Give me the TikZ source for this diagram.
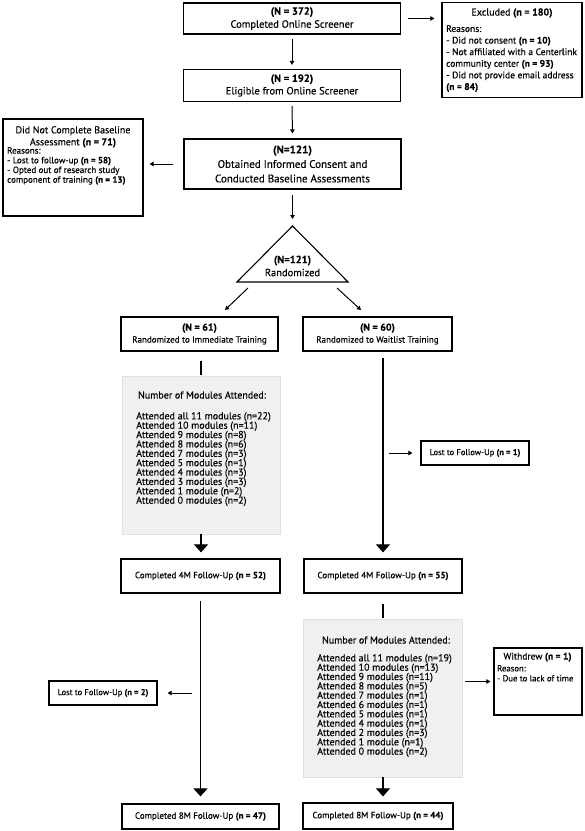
\documentclass[tikz,border=0pt]{standalone}
\usepackage{fontspec}
\setmainfont{PT Sans}[UprightFeatures={FakeBold=0.35}, BoldFont={PT Sans Bold}, BoldFeatures={FakeBold=0.1}]
\usetikzlibrary{arrows.meta}
\newcommand\mytight{\lineskiplimit-20pt\relax}
\begin{document}
\begin{tikzpicture}[x=1pt,y=-1pt,
  box/.style={draw, line width=1.2pt, inner sep=0pt, align=center},
  gbox/.style={draw=black!12, fill=black!6, line width=0.6pt, inner sep=0pt},
  sarr/.style={line width=1pt, -{Triangle[width=4.5pt,length=4pt]}},
  barr/.style={line width=1.1pt, -{Triangle[width=14pt,length=8pt]}},
  plainln/.style={line width=1.1pt},
  txt/.style={inner sep=0pt, align=left},
  ctxt/.style={inner sep=0pt, align=center},
]
\useasboundingbox (0,0) rectangle (585,831);
\fill[white] (0,0) rectangle (585,831);

% top column
\node[box, minimum width=217pt, minimum height=31pt, font=\fontsize{10.5}{13}\selectfont] (b1) at (292,18.5) {\textbf{(N = 372)}\\Completed Online Screener};
\node[box, minimum width=217pt, minimum height=32pt, font=\fontsize{10.5}{12.5}\selectfont] (b2) at (292,85.5) {\textbf{(N = 192)}\\Eligible from Online Screener};
\node[box, minimum width=217pt, minimum height=50pt, font=\fontsize{11}{14.5}\selectfont] (b3) at (292.5,164) {\textbf{(N=121)}\\Obtained Informed Consent and\\Conducted Baseline Assessments};

% excluded
\node[box, minimum width=140pt, minimum height=95pt] (ex) at (512,50) {};
\node[ctxt, anchor=base, font=\fontsize{10}{12}\selectfont] (exT) at (512,15.5) {Excluded \textbf{(n = 180)}};
\node[txt, anchor=north west, font=\fontsize{9.5}{11.6}\selectfont] (exR) at (446,25) {Reasons:\\- Did not consent \textbf{(n = 10)}\\- Not affiliated with a Centerlink\\community center \textbf{(n = 93)}\\- Did not provide email address\\\textbf{(n = 84)}};

% did not complete baseline
\node[box, minimum width=140pt, minimum height=97pt] (lb) at (73,167.5) {};
\node[ctxt, anchor=north, font=\fontsize{10}{12}\selectfont] (lbT) at (73,126) {Did Not Complete Baseline\\Assessment \textbf{(n = 71)}};
\node[txt, anchor=north west, font=\fontsize{9}{9.7}\selectfont] (lbR) at (7,147) {Reasons:\\- Lost to follow-up \textbf{(n = 58)}\\- Opted out of research study\\component of training \textbf{(n = 13)}};

% triangle
\coordinate (tA) at (292.5,226);
\coordinate (tL) at (237,282);
\coordinate (tR) at (348,282);
\draw[line width=1.1pt, line join=miter] (tA) -- (tL) -- (tR) -- cycle;
\node[ctxt, font=\fontsize{10.5}{13}\selectfont] (trT) at (292.5,266) {\textbf{(N=121)}\\Randomized};

% arms
\node[box, minimum width=157pt, minimum height=34pt, font=\fontsize{9}{12}\selectfont] (n61) at (199.5,334) {\textbf{\fontsize{10}{12}\selectfont(N = 61)}\\Randomized to Immediate Training};
\node[box, minimum width=149pt, minimum height=34pt, font=\fontsize{9}{12}\selectfont] (n60) at (377.5,334) {\textbf{\fontsize{10}{12}\selectfont(N = 60)}\\Randomized to Waitlist Training};

% left gray box
\node[gbox, minimum width=158pt, minimum height=158pt] (gl) at (201,455) {};
\node[ctxt, anchor=base, font=\fontsize{10}{12}\selectfont] (glT) at (202,398.5) {Number of Modules Attended:};
\node[txt, anchor=north west, font=\fontsize{10}{9.37}\selectfont\mytight] (glL) at (136,412) {Attended all 11 modules (n=22)\\Attended 10 modules (n=11)\\Attended 9 modules (n=8)\\Attended 8 modules (n=6)\\Attended 7 modules (n=3)\\Attended 5 modules (n=1)\\Attended 4 modules (n=3)\\Attended 3 modules (n=3)\\Attended 1 module (n=2)\\Attended 0 modules (n=2)};

% lost 1
\node[box, minimum width=108pt, minimum height=24pt, font=\fontsize{8.5}{10}\selectfont] (lost1) at (475,453) {Lost to Follow-Up \textbf{(n = 1)}};

% 4M boxes
\node[box, minimum width=159pt, minimum height=34pt, font=\fontsize{9}{11}\selectfont] (f4l) at (200.5,576) {Completed 4M Follow-Up \textbf{(n = 52)}};
\node[box, minimum width=158pt, minimum height=34pt, font=\fontsize{9}{11}\selectfont] (f4r) at (383,576) {Completed 4M Follow-Up \textbf{(n = 55)}};

% right gray box
\node[gbox, minimum width=159pt, minimum height=158pt] (gr) at (383,698) {};
\node[ctxt, anchor=base, font=\fontsize{10}{12}\selectfont] (grT) at (386,643.5) {Number of Modules Attended:};
\node[txt, anchor=north west, font=\fontsize{10}{9.33}\selectfont\mytight] (grL) at (317,654) {Attended all 11 modules (n=19)\\Attended 10 modules (n=13)\\Attended 9 modules (n=11)\\Attended 8 modules (n=5)\\Attended 7 modules (n=1)\\Attended 6 modules (n=1)\\Attended 5 modules (n=1)\\Attended 4 modules (n=1)\\Attended 2 modules (n=3)\\Attended 1 module (n=1)\\Attended 0 modules (n=2)};

% withdrew
\node[box, minimum width=88pt, minimum height=67pt] (wd) at (538,681.5) {};
\node[ctxt, anchor=base, font=\fontsize{9.5}{11}\selectfont] (wdT) at (537.5,659.5) {Withdrew \textbf{(n = 1)}};
\node[txt, anchor=north west, font=\fontsize{8.7}{10}\selectfont] (wdR) at (497,665) {Reason:\\- Due to lack of time};

% lost 2
\node[box, minimum width=108pt, minimum height=24pt, font=\fontsize{8.5}{10}\selectfont] (lost2) at (103,693) {Lost to Follow-Up \textbf{(n = 2)}};

% 8M boxes
\node[box, minimum width=157pt, minimum height=25pt, font=\fontsize{9}{11}\selectfont] (f8l) at (200.5,816.5) {Completed 8M Follow-Up \textbf{(n = 47)}};
\node[box, minimum width=150pt, minimum height=26pt, font=\fontsize{9}{11}\selectfont] (f8r) at (378,816) {Completed 8M Follow-Up \textbf{(n = 44)}};

% connectors
\draw[sarr, shorten <=4pt, shorten >=4pt] (b1.south) -- (b2.north);
\draw[sarr, shorten <=4pt, shorten >=5pt] (b2.south) -- (b3.north);
\draw[sarr, shorten <=7pt, shorten >=7pt] (b1.east) -- (b1.east -| ex.west);
\draw[sarr, shorten <=10pt, shorten >=6pt] (b3.west) -- (b3.west -| lb.east);
\draw[sarr, shorten <=5pt, shorten >=7pt] (b3.south) -- (tA);
\coordinate (d1s) at (248,288);
\coordinate (d1e) at (225,310);
\coordinate (d2s) at (337,288);
\coordinate (d2e) at (361,310);
\draw[sarr] (d1s) -- (d1e);
\draw[sarr] (d2s) -- (d2e);
\draw[plainln, shorten <=9pt, shorten >=1pt] (gl.north |- n61.south) -- (gl.north);
\draw[barr, shorten >=6pt] (gl.south) -- (gl.south |- f4l.north);
\draw[barr, shorten <=6pt, shorten >=6pt] (f4r.north |- n60.south) -- (f4r.north);
\draw[sarr, shorten <=6pt, shorten >=8pt] (lost1.west -| f4r.north) -- (lost1.west);
\draw[plainln, shorten <=10pt, shorten >=1pt] (f4r.south) -- (gr.north);
\draw[sarr, shorten <=2pt, shorten >=3pt] (wd.west -| gr.east) -- (wd.west);
\draw[barr, shorten >=6pt] (gr.south) -- (gr.south |- f8r.north);
\draw[barr, shorten <=7pt, shorten >=7pt] (f4l.south) -- (f4l.south |- f8l.north);
\draw[sarr, shorten <=9pt, shorten >=10pt] (lost2.east -| f4l.south) -- (lost2.east);
\end{tikzpicture}
\end{document}
